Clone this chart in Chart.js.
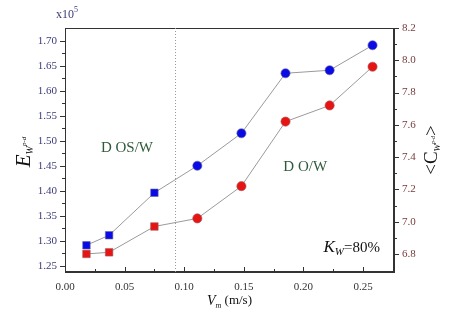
<!DOCTYPE html>
<html>
<head>
<meta charset="utf-8">
<script src="https://cdn.jsdelivr.net/npm/chart.js@4/dist/chart.umd.min.js"></script>
<style>
  html, body { margin: 0; padding: 0; background: #fff; }
  #wrap { width: 450px; height: 320px; }
</style>
</head>
<body>
<div id="wrap"><canvas id="chart" width="450" height="320"></canvas></div>
<script>
// dados
const velocidade = [0.018, 0.037, 0.075, 0.111, 0.148, 0.185, 0.222, 0.258];
const energia = [1.291, 1.311, 1.396, 1.450, 1.515, 1.635, 1.641, 1.691];   // x10^5, eixo esquerdo
const concentracao = [6.80, 6.81, 6.97, 7.02, 7.22, 7.62, 7.72, 7.96];     // eixo direito
const xTicks = [0.00, 0.05, 0.10, 0.15, 0.20, 0.25];
const leftTicks = [1.25, 1.30, 1.35, 1.40, 1.45, 1.50, 1.55, 1.60, 1.65, 1.70];
const rightTicks = [6.8, 7.0, 7.2, 7.4, 7.6, 7.8, 8.0, 8.2];
const transicao = 0.092; // linha pontilhada entre regimes

const serif = '"Liberation Serif", "DejaVu Serif", serif';
const corEsq = '#3b3b78';
const corDir = '#773b3b';
const corRegime = '#2f5a3a';

function pontos(ys) {
    return velocidade.map((v, i) => ({ x: v, y: ys[i] }));
}

function meios(arr) {
    const out = [];
    for (let i = 0; i < arr.length - 1; i++) out.push((arr[i] + arr[i + 1]) / 2);
    return out;
}

// desenha texto com sub/sobrescritos, centrado em (0,0)
function textoRico(ctx, partes) {
    let total = 0;
    partes.forEach(p => {
        ctx.font = (p.italic ? 'italic ' : '') + p.size + 'px ' + serif;
        p.w = ctx.measureText(p.t).width;
        total += p.w;
    });
    let x = -total / 2;
    partes.forEach(p => {
        ctx.font = (p.italic ? 'italic ' : '') + p.size + 'px ' + serif;
        ctx.fillStyle = p.color || '#111';
        ctx.fillText(p.t, x, p.dy || 0);
        x += p.w;
    });
}

const extras = {
    id: 'extras',
    afterDraw(chart) {
        const ctx = chart.ctx;
        const a = chart.chartArea;
        const sx = chart.scales.x, sy = chart.scales.y, sy2 = chart.scales.y2;
        ctx.save();

        // moldura
        ctx.strokeStyle = '#333';
        ctx.lineWidth = 1;
        ctx.strokeRect(a.left + 0.5, a.top + 0.5, a.right - a.left - 1, a.bottom - a.top - 1);

        // linha pontilhada
        const xt = Math.round(sx.getPixelForValue(transicao)) + 0.5;
        ctx.strokeStyle = '#9a9a9a';
        ctx.setLineDash([1, 2]);
        ctx.beginPath();
        ctx.moveTo(xt, a.top);
        ctx.lineTo(xt, a.bottom);
        ctx.stroke();
        ctx.setLineDash([]);

        // marcas dos eixos
        ctx.strokeStyle = '#333';
        ctx.beginPath();
        xTicks.forEach(v => { const p = Math.round(sx.getPixelForValue(v)) + 0.5; ctx.moveTo(p, a.bottom); ctx.lineTo(p, a.bottom - 5); });
        meios(xTicks).concat([0.275]).forEach(v => { const p = Math.round(sx.getPixelForValue(v)) + 0.5; ctx.moveTo(p, a.bottom); ctx.lineTo(p, a.bottom - 3); });
        leftTicks.forEach(v => { const p = Math.round(sy.getPixelForValue(v)) + 0.5; ctx.moveTo(a.left, p); ctx.lineTo(a.left - 5, p); });
        meios(leftTicks).forEach(v => { const p = Math.round(sy.getPixelForValue(v)) + 0.5; ctx.moveTo(a.left, p); ctx.lineTo(a.left - 3, p); });
        rightTicks.forEach(v => { const p = Math.round(sy2.getPixelForValue(v)) + 0.5; ctx.moveTo(a.right, p); ctx.lineTo(a.right + 5, p); });
        meios(rightTicks).forEach(v => { const p = Math.round(sy2.getPixelForValue(v)) + 0.5; ctx.moveTo(a.right, p); ctx.lineTo(a.right + 3, p); });
        ctx.stroke();

        ctx.textBaseline = 'middle';
        ctx.textAlign = 'left';

        // regimes
        ctx.save();
        ctx.translate(sx.getPixelForValue(0.052), sy.getPixelForValue(1.485));
        textoRico(ctx, [{ t: 'D OS/W', size: 15, color: corRegime }]);
        ctx.restore();
        ctx.save();
        ctx.translate(sx.getPixelForValue(0.2015), sy.getPixelForValue(1.447));
        textoRico(ctx, [{ t: 'D O/W', size: 15, color: corRegime }]);
        ctx.restore();

        // Kw
        ctx.save();
        ctx.translate(sx.getPixelForValue(0.2405), sy.getPixelForValue(1.2855));
        textoRico(ctx, [
            { t: 'K', size: 17, italic: true },
            { t: 'W', size: 11, italic: true, dy: 4 },
            { t: '=80%', size: 15 }
        ]);
        ctx.restore();

        // x10^5
        ctx.save();
        ctx.translate(a.left + 2, 15);
        textoRico(ctx, [
            { t: 'x10', size: 12, color: corEsq },
            { t: '5', size: 8, color: corEsq, dy: -5 }
        ]);
        ctx.restore();

        // título eixo x
        ctx.save();
        ctx.translate((a.left + a.right) / 2, 301);
        textoRico(ctx, [
            { t: 'V', size: 14, italic: true },
            { t: 'm', size: 8, italic: true, dy: 5 },
            { t: ' (m/s)', size: 13 }
        ]);
        ctx.restore();

        // título eixo esquerdo
        ctx.save();
        ctx.translate(24, (a.top + a.bottom) / 2 + 2);
        ctx.rotate(-Math.PI / 2);
        textoRico(ctx, [
            { t: 'E', size: 21, italic: true },
            { t: 'W', size: 10, italic: true, dy: 6 },
            { t: 'p-d', size: 7, italic: true, dy: 0 }
        ]);
        ctx.restore();

        // título eixo direito
        ctx.save();
        ctx.translate(432, (a.top + a.bottom) / 2);
        ctx.rotate(-Math.PI / 2);
        textoRico(ctx, [
            { t: '<C', size: 19 },
            { t: 'W', size: 9, italic: true, dy: 6 },
            { t: 'p-d', size: 6, italic: true, dy: 1 },
            { t: '>', size: 19 }
        ]);
        ctx.restore();

        ctx.restore();
    }
};

const estiloPonto = ctx => ctx.raw && ctx.raw.x < transicao ? 'rect' : 'circle';
const raioPonto = ctx => ctx.raw && ctx.raw.x < transicao ? 5.3 : 4.6;

const grafico = new Chart(document.getElementById('chart'), {
    type: 'scatter',
    data: {
        datasets: [{
            label: 'E',
            data: pontos(energia),
            yAxisID: 'y',
            showLine: true,
            borderColor: '#9a9a9a',
            borderWidth: 1,
            backgroundColor: '#0a0ae6',
            pointBackgroundColor: '#0a0ae6',
            pointBorderColor: '#6a6a9a',
            pointBorderWidth: 0.6,
            pointStyle: estiloPonto,
            pointRadius: raioPonto
        }, {
            label: 'C',
            data: pontos(concentracao),
            yAxisID: 'y2',
            showLine: true,
            borderColor: '#9a9a9a',
            borderWidth: 1,
            backgroundColor: '#e81414',
            pointBackgroundColor: '#e81414',
            pointBorderColor: '#9a5a5a',
            pointBorderWidth: 0.6,
            pointStyle: estiloPonto,
            pointRadius: raioPonto
        }]
    },
    options: {
        responsive: false,
        animation: false,
        layout: { padding: { top: 28, left: 0, right: 0, bottom: 0 } },
        plugins: { legend: { display: false }, tooltip: { enabled: false } },
        scales: {
            x: {
                type: 'linear',
                min: 0,
                max: 0.276,
                afterBuildTicks: axis => { axis.ticks = xTicks.map(v => ({ value: v })); },
                afterFit: axis => { axis.height = 48; },
                ticks: {
                    padding: 9,
                    color: '#333',
                    font: { family: serif, size: 11 },
                    callback: v => v.toFixed(2),
                    maxRotation: 0
                },
                grid: { drawOnChartArea: false, drawTicks: false },
                border: { color: '#333' }
            },
            y: {
                position: 'left',
                min: 1.2375,
                max: 1.7255,
                afterBuildTicks: axis => { axis.ticks = leftTicks.map(v => ({ value: v })); },
                afterFit: axis => { axis.width = 65; },
                ticks: {
                    padding: 8,
                    color: corEsq,
                    font: { family: serif, size: 11 },
                    callback: v => v.toFixed(2)
                },
                grid: { drawOnChartArea: false, drawTicks: false },
                border: { color: '#333' }
            },
            y2: {
                position: 'right',
                min: 6.688,
                max: 8.2,
                afterBuildTicks: axis => { axis.ticks = rightTicks.map(v => ({ value: v })); },
                afterFit: axis => { axis.width = 56; },
                ticks: {
                    padding: 8,
                    color: corDir,
                    font: { family: serif, size: 11 },
                    callback: v => v.toFixed(1)
                },
                grid: { drawOnChartArea: false, drawTicks: false },
                border: { color: '#333' }
            }
        }
    },
    plugins: [extras]
});
</script>
</body>
</html>
